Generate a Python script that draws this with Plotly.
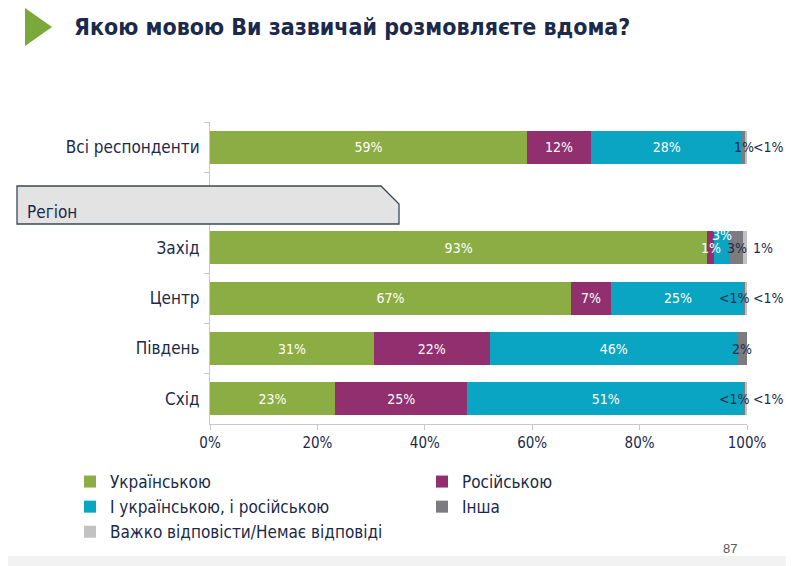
import plotly.graph_objects as go

categories = ["Всі респонденти", " ", "Захід", "Центр", "Південь", "Схід"]
series_names = ["Українською", "Російською", "І українською, і російською", "Інша",
                "Важко відповісти/Немає відповіді"]
ukr = [59.0, None, 92.6, 67.2, 30.5, 23.3]
rus = [12.0, None, 1.3, 7.5, 21.6, 24.6]
both = [28.1, None, 3.0, 24.9, 46.2, 51.6]
other = [0.7, None, 2.4, 0.2, 1.7, 0.2]
dk = [0.2, None, 0.7, 0.2, 0.0, 0.3]
ukr_lbl = ["59%", "", "93%", "67%", "31%", "23%"]
rus_lbl = ["12%", "", "1%", "7%", "22%", "25%"]
both_lbl = ["28%", "", "3%", "25%", "46%", "51%"]
other_lbl = ["1%", "", "3%", "<1%", "2%", "<1%"]
dk_lbl = ["<1%", "", "1%", "<1%", "", "<1%"]
x_ticks = [0, 20, 40, 60, 80, 100]
x_tick_text = ["0%", "20%", "40%", "60%", "80%", "100%"]

colors = ["#8cad43", "#922f6f", "#0aa5c2", "#7b7b80", "#c2c2c2"]
NAVY = "#1b2a4a"
FONT = "DejaVu Sans Condensed, DejaVu Sans"

all_vals = [ukr, rus, both, other, dk]
all_lbls = [ukr_lbl, rus_lbl, both_lbl, other_lbl, dk_lbl]

fig = go.Figure()
for name, vals, lbls, col in zip(series_names, all_vals, all_lbls, colors):
    txt = [l if (v is not None and v >= 5) else "" for v, l in zip(vals, lbls)]
    fig.add_trace(go.Bar(
        y=categories, x=vals, name=name, orientation="h",
        marker=dict(color=col, line=dict(width=0)),
        text=txt, textposition="inside", insidetextanchor="middle",
        textfont=dict(color="white", size=14, family=FONT),
        hoverinfo="skip",
    ))

annotations = []
lbl_font = dict(size=14, color=NAVY, family=FONT)
# small segment labels computed from cumulative sums
for i, cat in enumerate(categories):
    if ukr[i] is None:
        continue
    cum = 0
    for s, (vals, lbls) in enumerate(zip(all_vals, all_lbls)):
        v = vals[i]
        start = cum
        cum += v
        lbl = lbls[i]
        if not lbl or v >= 5:
            continue
        if s == 4:
            annotations.append(dict(x=100, y=cat, xref="x", yref="y", text=lbl,
                                    showarrow=False, xanchor="left", xshift=4,
                                    font=lbl_font))
        elif s == 3 and lbl.startswith("<"):
            annotations.append(dict(x=100, y=cat, xref="x", yref="y", text=lbl,
                                    showarrow=False, xanchor="right", xshift=5,
                                    font=lbl_font))
        else:
            white = s in (1, 2)
            yshift = 13 if s == 2 else 0
            annotations.append(dict(x=(start + cum) / 2, y=cat, xref="x", yref="y", text=lbl,
                                    showarrow=False, yshift=yshift,
                                    font=dict(size=14, color="white" if white else NAVY,
                                              family=FONT)))

# page body has an 8px margin: the figure is drawn from (8, 8)
OFF = 8
W, H = 794 - OFF, 566 - OFF
L, R, T, B = 210 - OFF, 47, 122 - OFF, 142
pw, ph = W - L - R, H - T - B


def px(x):
    return (x - OFF - L) / pw


def py(y):
    return (H - B - (y - OFF)) / ph


annotations.append(dict(x=px(25), y=py(212), xref="paper", yref="paper", text="Регіон",
                        showarrow=False, xanchor="left", yanchor="middle",
                        font=dict(size=17, color=NAVY, family=FONT)))
annotations.append(dict(x=px(730), y=py(548), xref="paper", yref="paper", text="87",
                        showarrow=False, xanchor="center", yanchor="middle",
                        font=dict(size=13, color="#595959", family="Liberation Sans")))

shapes = [
    dict(type="path", xref="paper", yref="paper",
         path=f"M {px(17)},{py(186)} L {px(381)},{py(186)} L {px(399)},{py(204)} "
              f"L {px(399)},{py(224)} L {px(17)},{py(224)} Z",
         fillcolor="#e3e3e3", line=dict(color="#3c4856", width=1.3), layer="above"),
    dict(type="path", xref="paper", yref="paper",
         path=f"M {px(25)},{py(8)} L {px(52)},{py(27)} L {px(25)},{py(46)} Z",
         fillcolor="#7aa83a", line=dict(width=0)),
    dict(type="rect", xref="paper", yref="paper",
         x0=px(0), x1=px(800), y0=py(556), y1=py(570),
         fillcolor="#f2f2f2", line=dict(width=0), layer="below"),
]

fig.update_layout(
    width=W, height=H,
    margin=dict(l=L, r=R, t=T, b=B, autoexpand=False),
    paper_bgcolor="white", plot_bgcolor="white",
    barmode="stack", bargap=0.34,
    title=dict(text="<b>Якою мовою Ви зазвичай розмовляєте вдома?</b>",
               x=(74 - OFF) / W, xanchor="left", y=1 - (27 - OFF) / H, yanchor="middle",
               font=dict(size=23, color=NAVY, family=FONT)),
    xaxis=dict(range=[0, 100], tickvals=x_ticks, ticktext=x_tick_text,
               showgrid=False, zeroline=False, showline=True, linecolor="#c8c8c8",
               ticks="outside", ticklen=5, tickcolor="#c8c8c8",
               tickfont=dict(size=15, color=NAVY, family=FONT), fixedrange=True),
    yaxis=dict(type="category", categoryorder="array", categoryarray=categories,
               range=[len(categories) - 0.5, -0.5], showgrid=False, zeroline=False,
               showline=True, linecolor="#c8c8c8", ticks="outside", ticklen=5,
               tickcolor="#c8c8c8", tickson="boundaries",
               tickfont=dict(size=17, color=NAVY, family=FONT), ticklabelstandoff=6),
    legend=dict(orientation="h", x=px(70), y=py(464), xanchor="left", yanchor="top",
                entrywidth=307, entrywidthmode="pixels", traceorder="normal",
                font=dict(size=17, color=NAVY, family=FONT), itemwidth=30),
    annotations=annotations, shapes=shapes,
    uniformtext=dict(mode="show", minsize=10),
)

fig.write_html("out.html")
